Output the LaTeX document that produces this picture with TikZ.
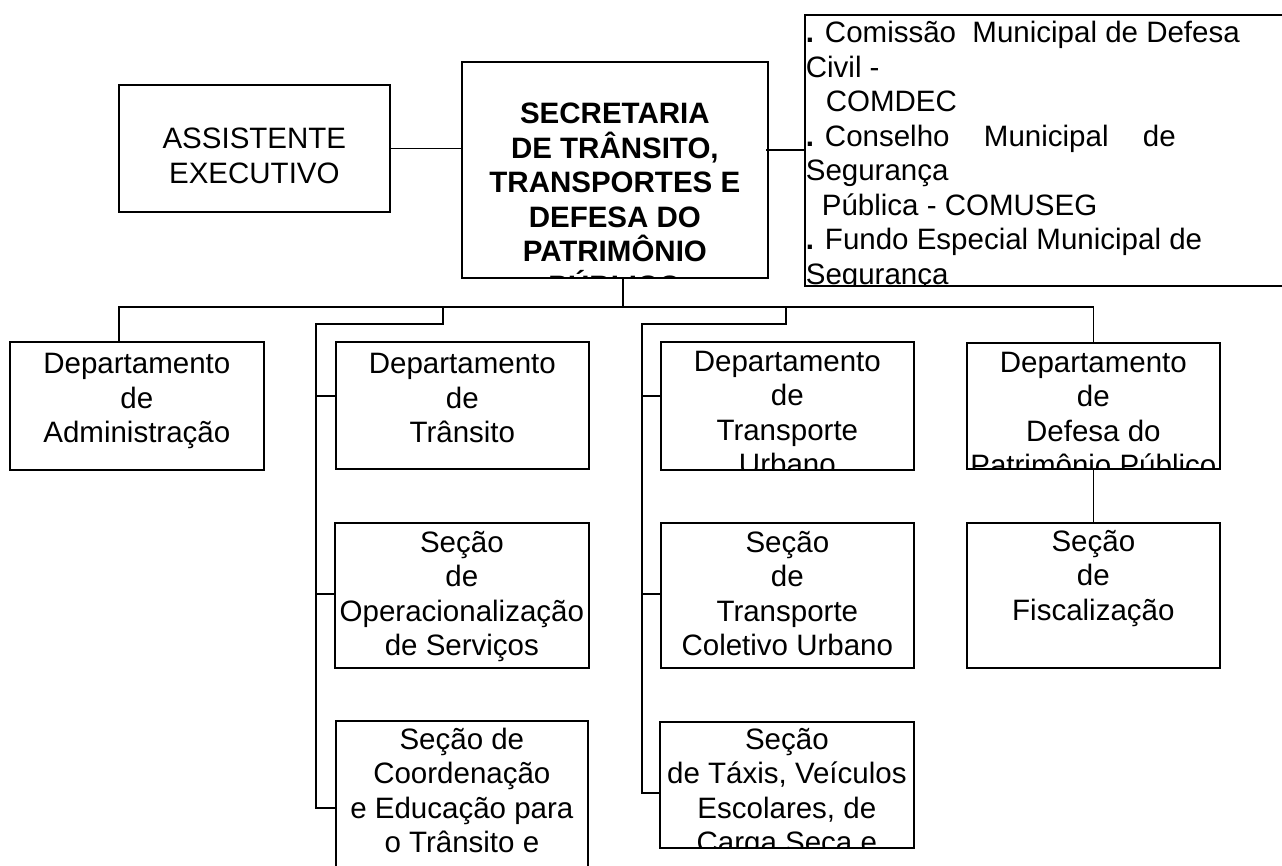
\documentclass[tikz,border=0pt]{standalone}
\usepackage{fontspec}
\setmainfont{Liberation Sans}
\usetikzlibrary{positioning}
\tikzset{
  orgbox/.style={draw,black,line width=1.7pt,anchor=north west,inner sep=0pt},
  orgtext/.style={align=center,inner sep=0pt,font={\fontsize{29.5}{34.5}\selectfont}},
  headtext/.style={orgtext,font={\fontsize{29.5}{34.5}\selectfont\bfseries}}
}
\newcommand{\topstrut}{\rule{0pt}{29.5pt}}
\newcommand{\boxtext}[4][orgtext]{%
  \begin{scope}
    \clip (#2.south west) rectangle (#2.north east);
    \node[#1,below=#3 of #2.north] {\topstrut#4};
  \end{scope}}

\begin{document}
\begin{tikzpicture}[line cap=rect,line join=miter,x=1pt,y=-1pt,line width=1.7pt]
    \useasboundingbox (0,0) rectangle (1282,865);
    \clip (0,0) rectangle (1282,865);

    \node[orgbox,minimum width=271pt,minimum height=127pt] (asst) at (118,84) {};
    \node[orgbox,minimum width=306pt,minimum height=216pt] (sec) at (461,61) {};
    \node[orgbox,minimum width=490pt,minimum height=271pt] (cons) at (804,14) {};
    \node[orgbox,minimum width=254pt,minimum height=128pt] (adm) at (9,341) {};
    \node[orgbox,minimum width=253pt,minimum height=127pt] (dtr) at (335,341) {};
    \node[orgbox,minimum width=253pt,minimum height=128pt] (dtp) at (660,341) {};
    \node[orgbox,minimum width=253pt,minimum height=126pt] (def) at (966,342) {};
    \node[orgbox,minimum width=254pt,minimum height=145pt] (sop) at (334,522) {};
    \node[orgbox,minimum width=253pt,minimum height=145pt] (stc) at (660,522) {};
    \node[orgbox,minimum width=253pt,minimum height=145pt] (sfi) at (966,522) {};
    \node[orgbox,minimum width=252pt,minimum height=176pt] (sco) at (335,720) {};
    \node[orgbox,minimum width=254pt,minimum height=126pt] (stx) at (659,721) {};

    \boxtext{asst}{34.5pt}{ASSISTENTE\\EXECUTIVO}
    \boxtext[headtext]{sec}{32.5pt}{SECRETARIA\\DE TRÂNSITO,\\TRANSPORTES E\\DEFESA DO\\PATRIMÔNIO\\PÚBLICO}
    \begin{scope}
        \clip (cons.south west) rectangle (cons.north east);
        \node[orgtext,align=left,below right=-1.5pt and 1pt of cons.north west] (constext) {%
            \topstrut{\bfseries .} Comissão\ \ Municipal de Defesa\\
            Civil -\\
            \hspace*{20pt}COMDEC\\
            \makebox[370pt][s]{{\bfseries .} Conselho\hfill Municipal\hfill de}\\
            Segurança\\
            \hspace*{16pt}Pública - COMUSEG\\
            {\bfseries .} Fundo Especial Municipal de\\
            Segurança};
    \end{scope}
    \boxtext{adm}{2.5pt}{Departamento\\de\\Administração}
    \boxtext{dtr}{2.5pt}{Departamento\\de\\Trânsito}
    \boxtext{dtp}{0pt}{Departamento\\de\\Transporte\\Urbano}
    \boxtext{def}{0pt}{Departamento\\de\\Defesa do\\Patrimônio Público}
    \boxtext{sop}{0pt}{Seção\\de\\Operacionalização\\de Serviços}
    \boxtext{stc}{0pt}{Seção\\de\\Transporte\\Coletivo Urbano}
    \boxtext{sfi}{-1pt}{Seção\\de\\Fiscalização}
    \boxtext{sco}{-1pt}{Seção de\\Coordenação\\e Educação para\\o Trânsito e}
    \boxtext{stx}{-2pt}{Seção\\de Táxis, Veículos\\Escolares, de\\Carga Seca e}

    % Edges
    \coordinate (rlink) at (767,150);
    \coordinate (hub) at (623,307);
    \coordinate (busL) at (119,307);
    \coordinate (jT) at (443,324);
    \coordinate (sT) at (316,324);
    \coordinate (jP) at (786,324);
    \coordinate (sP) at (642,324);
    \draw (asst.east) -- (asst.east -| sec.west);
    \draw (rlink) -- (rlink -| cons.west);
    \draw (hub |- sec.south) -- (hub);
    \draw (busL |- adm.north) -- (busL) -| (def.north);
    \draw (jT |- hub) -- (jT) -- (sT) -- (316,808);
    \draw (jP |- hub) -- (jP) -- (sP) -- (642,793);
    \draw (def.south) -- (sfi.north);
    \foreach \sp/\n/\y in {316/dtr/396, 316/sop/594, 316/sco/808, 642/dtp/396, 642/stc/594, 642/stx/793} {
        \draw (\sp,\y) -- (\n.west |- \sp,\y);
    }
\end{tikzpicture}
\end{document}
